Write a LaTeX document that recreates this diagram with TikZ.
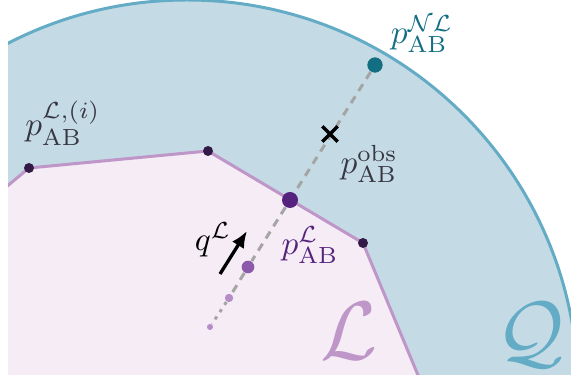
\documentclass[tikz,border=0pt]{standalone}
\usepackage{amsmath}
\usepackage{amssymb}
\usetikzlibrary{arrows.meta,shapes.misc}
\definecolor{qfill}{RGB}{196,219,230}
\definecolor{qline}{RGB}{100,172,198}
\definecolor{lfill}{RGB}{245,236,245}
\definecolor{lline}{RGB}{190,150,200}
\definecolor{vdark}{RGB}{50,25,70}
\definecolor{ppurple}{RGB}{85,35,125}
\definecolor{qpurple}{RGB}{140,90,170}
\definecolor{tpurple}{RGB}{180,140,200}
\definecolor{nlteal}{RGB}{20,110,130}
\definecolor{labgray}{RGB}{55,55,65}
\definecolor{raygray}{RGB}{165,165,165}
\tikzset{
  pdot/.style={circle, fill=#1, inner sep=0pt},
  vertexdot/.style={pdot=vdark, minimum size=3pt},
  lab/.style={inner sep=0.5pt},
}

\begin{document}
\begin{tikzpicture}[x=0.3pt, y=-0.3pt]
    \useasboundingbox (0,0) rectangle (571,381);
    % vertices of the local polytope
    \coordinate (l0) at (5,188);
    \coordinate (l1) at (29,168);
    \coordinate (l2) at (208,151);
    \coordinate (l3) at (363,243);
    \coordinate (l4) at (420,380);
    \begin{scope}
        \clip (8,0) rectangle (571,375);
        \fill[qfill] (187,391) circle (391);
        \fill[lfill] (l0) -- (l1) -- (l2) -- (l3) -- (l4) -- (0,380) -- cycle;
        \draw[qline, line width=0.9pt] (187,391) circle (391);
        \draw[lline, line width=0.9pt] (l0) -- (l1) -- (l2) -- (l3) -- (l4);
    \end{scope}
    % ray from the nonlocal point
    \node[pdot=nlteal, minimum size=4.6pt] (nl) at (375,65) {};
    \node[pdot=ppurple, minimum size=4.8pt] (pl) at (290,200) {};
    \node[pdot=qpurple, minimum size=3.8pt] (qm) at (248,267) {};
    \node[pdot=tpurple, minimum size=2.5pt] (qs) at (229,298) {};
    \node[pdot=tpurple, minimum size=1.8pt] (qt) at (210,327) {};
    \draw[raygray, line width=0.9pt, dash pattern=on 2.4pt off 1.9pt] (nl) -- (pl) -- (qm) -- (qs);
    \draw[raygray, line width=0.9pt, dash pattern=on 1pt off 1.6pt] (qs) -- (qt);
    \node[cross out, draw, line width=1pt, minimum size=3.6pt, inner sep=0pt] (obs) at (330,134) {};
    \foreach \v in {l1,l2,l3}
        \node[vertexdot] at (\v) {};
    % arrow for q
    \coordinate (qtail) at (220,274);
    \coordinate (qhead) at (247,231);
    \draw[-{Latex[length=5pt,width=4.2pt]}, line width=1pt] (qtail) -- (qhead);
    % labels
    \node[lab, text=labgray] (lablv) at (63,123) {$p_{\mathrm{AB}}^{\mathcal{L},(i)}$};
    \node[lab, text=labgray] (labobs) at (369,164) {$p_{\mathrm{AB}}^{\mathrm{obs}}$};
    \node[lab, text=ppurple] (labl) at (310,245) {$p_{\mathrm{AB}}^{\mathcal{L}}$};
    \node[lab] (labq) at (213,240) {$q^{\mathcal{L}}$};
    \node[lab, text=nlteal] (labnl) at (422,34) {$p_{\mathrm{AB}}^{\mathcal{N}\mathcal{L}}$};
    \node[lab, text=lline] (setl) at (349,331) {\Huge$\mathcal{L}$};
    \node[lab, text=qline] (setq) at (530,335) {\Huge$\mathcal{Q}$};
\end{tikzpicture}
\end{document}
